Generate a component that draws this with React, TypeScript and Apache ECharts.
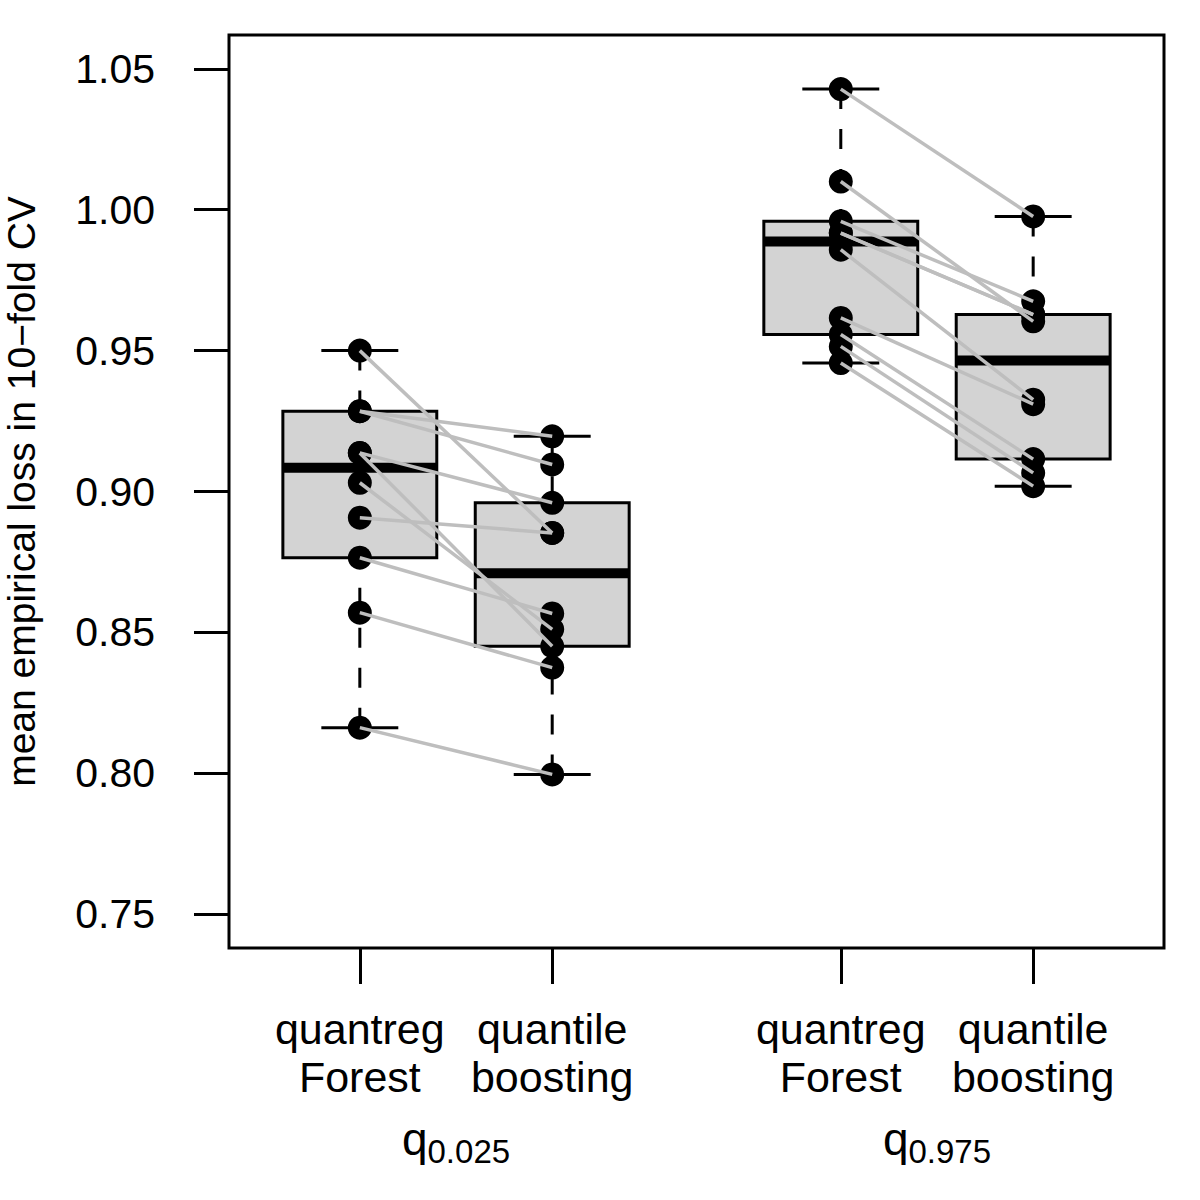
import React, { useEffect, useRef } from "react";
import * as echarts from "echarts";

// x positions of the four boxes (R boxplot "at")
const positions = [1, 2, 3.5, 4.5];
const methodLabels = ["quantreg\nForest", "quantile\nboosting", "quantreg\nForest", "quantile\nboosting"];
const groupPositions = [1.5, 4];
const groupSubscripts = ["0.025", "0.975"];
const yTicks = [0.75, 0.8, 0.85, 0.9, 0.95, 1.0, 1.05];
const yTitle = "mean empirical loss in 10\u2212fold CV";

// paired values (index i = same data set) for q0.025
const qrf025 = [0.950, 0.9285, 0.9285, 0.9137, 0.9137, 0.9031, 0.8907, 0.8765, 0.857, 0.8162];
const qb025 = [0.8853, 0.9196, 0.9096, 0.896, 0.8451, 0.8511, 0.8853, 0.8567, 0.8375, 0.7996];
// paired values for q0.975
const qrf975 = [1.0428, 1.01, 0.9959, 0.9917, 0.9917, 0.9858, 0.9616, 0.9557, 0.9515, 0.9456];
const qb975 = [0.9976, 0.9604, 0.9675, 0.9628, 0.9628, 0.9326, 0.931, 0.9115, 0.9066, 0.9019];

const FONT = "'Liberation Sans', Arial, Helvetica, sans-serif";

function boxStats(values: number[]) {
  const s = [...values].sort((a, b) => a - b);
  const n = s.length;
  const n4 = Math.floor((n + 3) / 2) / 2;
  const d = [1, n4, (n + 1) / 2, n + 1 - n4, n];
  const five = d.map((p) => 0.5 * (s[Math.floor(p) - 1] + s[Math.ceil(p) - 1]));
  const iqr = five[3] - five[1];
  const loLim = five[1] - 1.5 * iqr;
  const hiLim = five[3] + 1.5 * iqr;
  const lo = Math.min(...s.filter((v) => v >= loLim));
  const hi = Math.max(...s.filter((v) => v <= hiLim));
  return [lo, five[1], five[2], five[3], hi];
}

export default function App() {
  const ref = useRef<HTMLDivElement>(null);
  useEffect(() => {
    document.body.style.margin = "0";
    if (!ref.current) return;
    const chart = echarts.init(ref.current, undefined, { renderer: "svg" });
    const groups = [qrf025, qb025, qrf975, qb975];
    const boxData = groups.map((g, i) => [positions[i], ...boxStats(g)]);
    const pointData: number[][] = [];
    groups.forEach((g, i) => g.forEach((v) => pointData.push([positions[i], v])));
    const pairs: { coords: number[][] }[] = [];
    qrf025.forEach((v, i) => pairs.push({ coords: [[positions[0], v], [positions[1], qb025[i]]] }));
    qrf975.forEach((v, i) => pairs.push({ coords: [[positions[2], v], [positions[3], qb975[i]]] }));

    const option: any = {
      animation: false,
      backgroundColor: "#fff",
      grid: {
        left: 229, top: 35, width: 935, height: 913,
        outerBoundsMode: "none", containLabel: false,
        show: true, borderColor: "#000", borderWidth: 3, backgroundColor: "transparent",
      },
      xAxis: [
        {
          type: "value", min: 0.32, max: 5.18, position: "bottom",
          axisLine: { show: false }, splitLine: { show: false },
          axisTick: { show: true, customValues: positions, length: 36, lineStyle: { color: "#000", width: 3 } },
          axisLabel: {
            customValues: positions,
            formatter: (v: number) => methodLabels[positions.indexOf(v)] ?? "",
            fontSize: 43, lineHeight: 48, color: "#000", fontFamily: FONT, margin: 57,
          },
        },
        {
          type: "value", min: 0.32, max: 5.18, position: "bottom",
          axisLine: { show: false }, splitLine: { show: false }, axisTick: { show: false },
          axisLabel: {
            customValues: groupPositions,
            formatter: (v: number) => `{q|q}{s|${groupSubscripts[groupPositions.indexOf(v)] ?? ""}}`,
            margin: 168,
            rich: {
              q: { fontSize: 46, lineHeight: 46, verticalAlign: "top", color: "#000", fontFamily: FONT },
              s: { fontSize: 33, lineHeight: 33, padding: [19, 0, 0, 0], verticalAlign: "top", color: "#000", fontFamily: FONT },
            },
          },
        },
      ],
      yAxis: {
        type: "value", min: 0.738, max: 1.062,
        axisLine: { show: false }, splitLine: { show: false },
        axisTick: { show: true, customValues: yTicks, length: 35, lineStyle: { color: "#000", width: 3 } },
        axisLabel: {
          customValues: yTicks, formatter: (v: number) => v.toFixed(2),
          fontSize: 41, color: "#000", fontFamily: FONT, margin: 74,
        },
        name: yTitle, nameLocation: "middle", nameRotate: 90, nameGap: 188,
        nameTextStyle: { fontSize: 39, color: "#000", fontFamily: FONT },
      },
      series: [
        {
          type: "custom", z: 2, xAxisIndex: 0, yAxisIndex: 0,
          data: boxData,
          renderItem: (params: any, api: any) => {
            const x = api.value(0);
            const lo = api.coord([x, api.value(1)]);
            const q1 = api.coord([x, api.value(2)]);
            const med = api.coord([x, api.value(3)]);
            const q3 = api.coord([x, api.value(4)]);
            const hi = api.coord([x, api.value(5)]);
            const half = api.size([0.8, 0])[0] / 2;
            const sHalf = api.size([0.4, 0])[0] / 2;
            const cx = q1[0];
            const black = { stroke: "#000", lineWidth: 3, fill: "none" };
            return {
              type: "group",
              children: [
                { type: "line", shape: { x1: cx, y1: hi[1], x2: cx, y2: q3[1] }, style: { ...black, lineDash: [20, 20] } },
                { type: "line", shape: { x1: cx, y1: lo[1], x2: cx, y2: q1[1] }, style: { ...black, lineDash: [20, 20] } },
                { type: "line", shape: { x1: cx - sHalf, y1: hi[1], x2: cx + sHalf, y2: hi[1] }, style: black },
                { type: "line", shape: { x1: cx - sHalf, y1: lo[1], x2: cx + sHalf, y2: lo[1] }, style: black },
                {
                  type: "rect",
                  shape: { x: cx - half, y: q3[1], width: 2 * half, height: q1[1] - q3[1] },
                  style: { fill: "#D3D3D3", stroke: "#000", lineWidth: 3 },
                },
                { type: "line", shape: { x1: cx - half, y1: med[1], x2: cx + half, y2: med[1] }, style: { stroke: "#000", lineWidth: 10 } },
              ],
            };
          },
        },
        {
          type: "scatter", z: 3, data: pointData, symbol: "circle", symbolSize: 24,
          itemStyle: { color: "#000", opacity: 1 },
        },
        {
          type: "lines", z: 4, coordinateSystem: "cartesian2d", data: pairs,
          lineStyle: { color: "#BEBEBE", width: 3.5, opacity: 1, curveness: 0 },
          effect: { show: false },
        },
      ],
    };
    chart.setOption(option);
    return () => chart.dispose();
  }, []);
  return <div ref={ref} style={{ width: 1200, height: 1200 }} />;
}
